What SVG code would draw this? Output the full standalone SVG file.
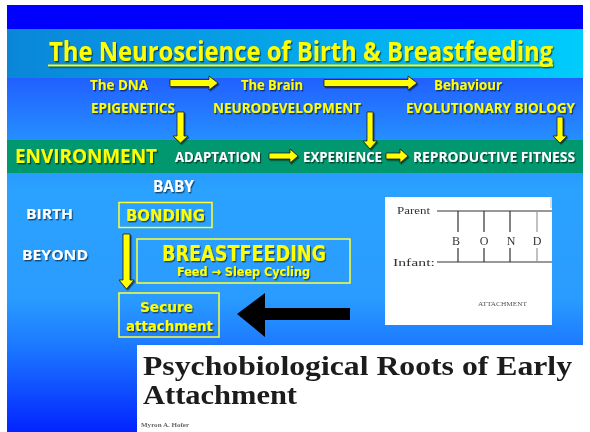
<svg xmlns="http://www.w3.org/2000/svg" width="590" height="432" viewBox="0 0 590 432">
  <defs>
    <linearGradient id="bodyGrad" gradientUnits="userSpaceOnUse" x1="0" y1="78" x2="0" y2="432">
      <stop offset="0" stop-color="#2160ff"/>
      <stop offset="0.18" stop-color="#2690ff"/>
      <stop offset="0.32" stop-color="#2aa2ff"/>
      <stop offset="0.62" stop-color="#2a9cff"/>
      <stop offset="0.76" stop-color="#1c78ff"/>
      <stop offset="1" stop-color="#0324ff"/>
    </linearGradient>
    <linearGradient id="titleGrad" x1="0" y1="0" x2="1" y2="0">
      <stop offset="0" stop-color="#0a86d8"/>
      <stop offset="0.5" stop-color="#05a6ea"/>
      <stop offset="1" stop-color="#00ccfc"/>
    </linearGradient>
    <filter id="shadow" x="-10%" y="-40%" width="120%" height="180%">
      <feDropShadow dx="1.2" dy="1.4" stdDeviation="0.7" flood-color="#000" flood-opacity="0.55"/>
    </filter>
    <filter id="soft" x="-5%" y="-5%" width="110%" height="110%">
      <feGaussianBlur stdDeviation="0.45"/>
    </filter>
    <style>
      .sans { font-family: "Open Sans", "Liberation Sans", sans-serif; font-weight: bold; }
      .comic { font-family: "DejaVu Sans", "Liberation Sans", sans-serif; font-weight: bold; }
      .yel { fill: #ffff00; }
      .wht { fill: #ffffff; }
      .shd { filter: url(#shadow); }
      .arrow { fill: #ffff00; stroke: #1a1a1a; stroke-width: 0.8; filter: url(#shadow); }
      .box { fill: none; stroke: #ffff33; stroke-width: 1.5; }
      .serif { font-family: "Liberation Serif", "DejaVu Serif", serif; }
      .bondline { stroke: #333; stroke-width: 1.2; fill: none; }
    </style>
  </defs>

  <!-- slide background -->
  <rect x="0" y="0" width="590" height="432" fill="#ffffff"/>
  <rect x="7" y="5" width="576" height="24" fill="#0000ff"/>
  <rect x="7" y="29" width="576" height="49" fill="url(#titleGrad)"/>
  <rect x="7" y="78" width="576" height="354" fill="url(#bodyGrad)"/>
  <rect x="7" y="140" width="576" height="33" fill="#02986f"/>

  <!-- title -->
  <g id="title" class="shd">
    <text x="49" y="61" class="sans yel" font-size="26" textLength="504" lengthAdjust="spacingAndGlyphs">The Neuroscience of Birth &amp; Breastfeeding</text>
    <rect x="48" y="64.5" width="505" height="1.8" fill="#ffff00"/>
  </g>

  <!-- top rows -->
  <g id="row-dna" class="shd">
    <text x="90" y="90" class="sans yel" font-size="14" textLength="58" lengthAdjust="spacingAndGlyphs">The DNA</text>
    <text x="241" y="90" class="sans yel" font-size="14" textLength="62" lengthAdjust="spacingAndGlyphs">The Brain</text>
    <text x="434" y="90" class="sans yel" font-size="14" textLength="68" lengthAdjust="spacingAndGlyphs">Behaviour</text>
  </g>
  <g id="row-fields" class="shd">
    <text x="91" y="113" class="sans yel" font-size="13.5" textLength="84" lengthAdjust="spacingAndGlyphs">EPIGENETICS</text>
    <text x="213" y="113" class="sans yel" font-size="13.5" textLength="148" lengthAdjust="spacingAndGlyphs">NEURODEVELOPMENT</text>
    <text x="406" y="113" class="sans yel" font-size="13.5" textLength="169" lengthAdjust="spacingAndGlyphs">EVOLUTIONARY  BIOLOGY</text>
  </g>

  <!-- environment row -->
  <g id="environment" class="shd">
    <text x="15" y="163" class="sans yel" font-size="19.5" textLength="142" lengthAdjust="spacingAndGlyphs">ENVIRONMENT</text>
  </g>
  <g id="adaptation" class="shd">
    <text x="175" y="162" class="sans wht" font-size="13.5" textLength="86" lengthAdjust="spacingAndGlyphs">ADAPTATION</text>
  </g>
  <g id="experience" class="shd">
    <text x="303" y="162" class="sans wht" font-size="13.5" textLength="79" lengthAdjust="spacingAndGlyphs">EXPERIENCE</text>
  </g>
  <g id="fitness" class="shd">
    <text x="413" y="162" class="sans wht" font-size="13.5" textLength="162" lengthAdjust="spacingAndGlyphs">REPRODUCTIVE  FITNESS</text>
  </g>

  <!-- baby section labels -->
  <g id="labels" class="shd">
    <text x="153" y="192" class="sans wht" font-size="15.5" textLength="41" lengthAdjust="spacingAndGlyphs">BABY</text>
    <text x="26" y="219" class="sans wht" font-size="15" textLength="47" lengthAdjust="spacingAndGlyphs">BIRTH</text>
    <text x="22" y="260" class="sans wht" font-size="15" textLength="66" lengthAdjust="spacingAndGlyphs">BEYOND</text>
  </g>

  <g id="bonding">
    <rect x="119" y="202.5" width="93" height="25" class="box"/>
    <text x="126" y="221" class="comic yel shd" font-size="15" textLength="79" lengthAdjust="spacingAndGlyphs">BONDING</text>
  </g>

  <g id="breastfeeding">
    <rect x="137" y="239" width="213" height="44" class="box"/>
    <text x="162" y="261" class="comic yel shd" font-size="21" textLength="164" lengthAdjust="spacingAndGlyphs">BREASTFEEDING</text>
    <text x="177" y="276" class="comic yel shd" font-size="12" textLength="133" lengthAdjust="spacingAndGlyphs">Feed → Sleep Cycling</text>
  </g>

  <g id="secure-attachment">
    <rect x="119" y="293" width="100" height="44" class="box"/>
    <text x="140" y="312" class="comic yel shd" font-size="14.5" textLength="53" lengthAdjust="spacingAndGlyphs">Secure</text>
    <text x="126" y="331" class="comic yel shd" font-size="14.5" textLength="87" lengthAdjust="spacingAndGlyphs">attachment</text>
  </g>

  <!-- BOND figure -->
  <g id="bond-figure">
    <rect x="385" y="197" width="167" height="128" fill="#ffffff"/>
    <g filter="url(#soft)">
      <text x="397" y="214" class="serif" font-size="11" fill="#333" textLength="33" lengthAdjust="spacingAndGlyphs">Parent</text>
      <text x="393" y="266" class="serif" font-size="11" fill="#333" textLength="42" lengthAdjust="spacingAndGlyphs">Infant:</text>
      <path class="bondline" d="M437,211 H552 M437,262 H552"/>
      <path class="bondline" d="M458,211 V232 M458,248 V262 M484,211 V232 M484,248 V262 M510,211 V232 M510,248 V262"/>
      <path d="M537,211 V232 M537,248 V262" stroke="#999" stroke-width="1.2"/>
      <path d="M551,197 V208" stroke="#bbb" stroke-width="1"/>
      <g class="serif" font-size="12" fill="#333" text-anchor="middle">
        <text x="456" y="245">B</text>
        <text x="484" y="245">O</text>
        <text x="511" y="245">N</text>
        <text x="537" y="245">D</text>
      </g>
      <text x="478" y="306" class="serif" font-size="7" fill="#555" textLength="49" lengthAdjust="spacingAndGlyphs">ATTACHMENT</text>
    </g>
  </g>

  <!-- article heading -->
  <g id="article">
    <rect x="137" y="345" width="446" height="87" fill="#ffffff"/>
    <g filter="url(#soft)" fill="#1a1a1a">
      <text x="143" y="375" class="serif" font-weight="bold" font-size="27" textLength="429" lengthAdjust="spacingAndGlyphs">Psychobiological Roots of Early</text>
      <text x="143" y="404" class="serif" font-weight="bold" font-size="27" textLength="154" lengthAdjust="spacingAndGlyphs">Attachment</text>
      <text x="141" y="427" class="serif" font-weight="bold" font-size="7" fill="#666" textLength="48" lengthAdjust="spacingAndGlyphs">Myron A. Hofer</text>
    </g>
  </g>

  <!-- connectors -->
  <g id="connectors">
    <path class="arrow" d="M170,79.5 H209 V76 L218,83 L209,90 V86.5 H170 Z"/>
    <path class="arrow" d="M324,79.5 H408 V76 L417,83 L408,90 V86.5 H324 Z"/>
    <path class="arrow" d="M177,112 H184 V136 H188 L180.5,143 L173,136 H177 Z"/>
    <path class="arrow" d="M367,112 H373 V141 H377 L370,149 L363,141 H367 Z"/>
    <path class="arrow" d="M557,117 H563 V136 H567 L560,143 L553,136 H557 Z"/>
    <path class="arrow" d="M269,153 H290 V149 L298,156 L290,163 V159 H269 Z"/>
    <path class="arrow" d="M386,153 H400 V149 L408,156 L400,163 V159 H386 Z"/>
    <path class="arrow" d="M123,234 H130 V280 H134 L126.5,289 L119,280 H123 Z"/>
    <path d="M237,314 L265,293 V308 H350 V320 H265 V337 Z" fill="#000000"/>
  </g>
</svg>
